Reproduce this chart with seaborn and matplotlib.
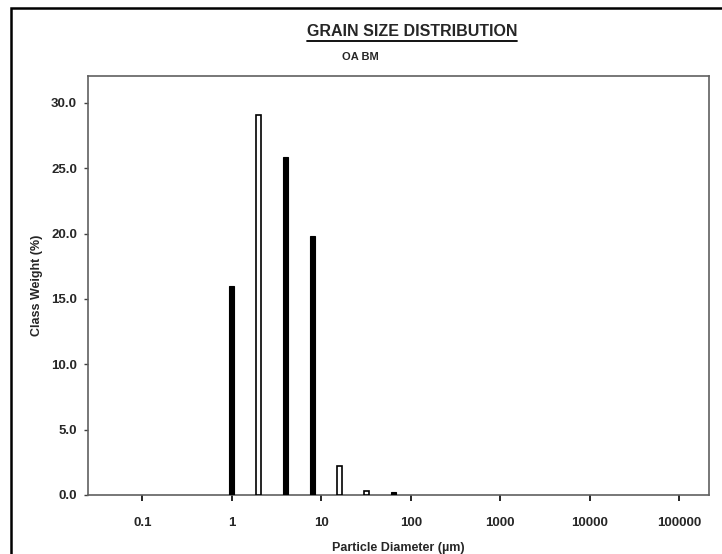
import numpy as np
import pandas as pd
import seaborn as sns
import matplotlib.pyplot as plt
from matplotlib.patches import Rectangle
from matplotlib.lines import Line2D

# grain size classes (um) and class weights (%)
diameters = [1, 2, 4, 8, 16, 32, 64]
weights = [16.0, 29.1, 25.9, 19.8, 2.2, 0.3, 0.2]
hollow = [False, True, False, False, True, True, False]

tick_values = [0.1, 1, 10, 100, 1000, 10000, 100000]
tick_labels = ["0.1", "1", "10", "100", "1000", "10000", "100000"]
y_ticks = [0, 5, 10, 15, 20, 25, 30]

sns.set_theme(style="white")
plt.rcParams["font.family"] = ["Liberation Sans", "DejaVu Sans"]
plt.rcParams["font.weight"] = "bold"

df = pd.DataFrame({"d": diameters, "w": weights, "hollow": hollow})
half = 10 ** 0.028
df["left"] = df["d"] / half
df["width"] = df["d"] * half - df["left"]

fig = plt.figure(figsize=(7.22, 5.54), dpi=100)
ax = fig.add_axes([0.1219, 0.1065, 0.860, 0.7563])

for _, r in df.iterrows():
    if r["hollow"]:
        ax.bar(r["left"], r["w"], width=r["width"], align="edge",
               facecolor="white", edgecolor="black", linewidth=1.2, zorder=3)
    else:
        ax.bar(r["left"], r["w"], width=r["width"], align="edge",
               facecolor="black", edgecolor="black", linewidth=0.8, zorder=3)

ax.set_xscale("log")
ax.set_xlim(10 ** -1.609, 10 ** 5.335)
ax.set_ylim(0, 32.06)
ax.set_xticks(tick_values)
ax.set_xticklabels(tick_labels)
ax.minorticks_off()
ax.set_yticks(y_ticks)
ax.set_yticklabels([f"{v:.1f}" for v in y_ticks])

ax.tick_params(axis="x", direction="out", length=4, width=1.2, color="black",
               pad=12, labelsize=9.5)
ax.tick_params(axis="y", direction="out", length=3, width=1, color="#404040",
               pad=5, labelsize=9.5)
ax.tick_params(bottom=True, left=True)
for lab in ax.get_xticklabels() + ax.get_yticklabels():
    lab.set_fontweight("bold")
for s in ax.spines.values():
    s.set_color("#606060")
    s.set_linewidth(1.2)

ax.set_xlabel("Particle Diameter (µm)", fontsize=9, fontweight="bold", labelpad=9)
ax.set_ylabel("Class Weight (%)", fontsize=9, fontweight="bold", labelpad=6)

# titles
title = fig.text(412 / 722, 1 - 31 / 554, "GRAIN SIZE DISTRIBUTION", ha="center",
                 va="center", fontsize=11.5, fontweight="bold")
fig.text(360 / 722, 1 - 57 / 554, "OA BM", ha="center", va="center",
         fontsize=8, fontweight="bold")

fig.canvas.draw()
bb = title.get_window_extent(fig.canvas.get_renderer())
inv = fig.transFigure.inverted()
(x0, y0), (x1, _) = inv.transform([(bb.x0, bb.y0), (bb.x1, bb.y1)])
fig.add_artist(Line2D([x0, x1], [y0 - 0.004, y0 - 0.004], color="black",
                      linewidth=1.3, transform=fig.transFigure))

# outer chart frame
fig.add_artist(Rectangle((11 / 722, -0.05), 1.1, 1 - 8 / 554 + 0.05,
                         transform=fig.transFigure, fill=False,
                         edgecolor="black", linewidth=1.8))

fig.savefig("out.png", dpi=100)
